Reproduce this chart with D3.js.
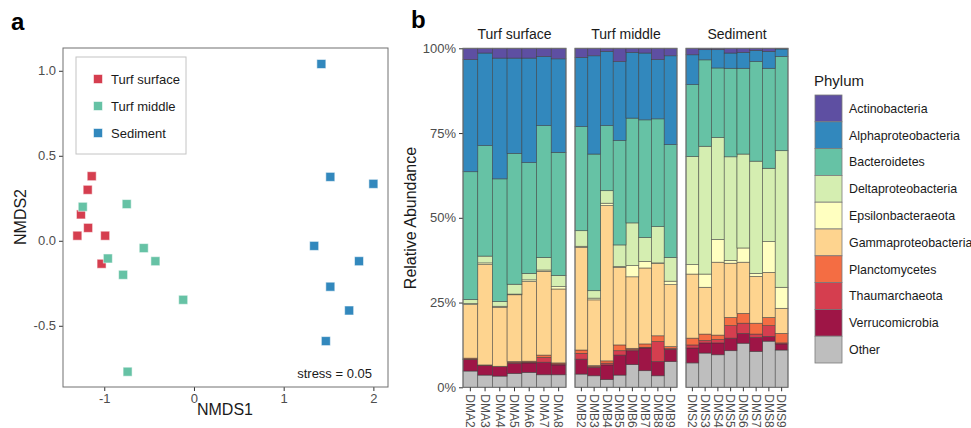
<!DOCTYPE html>
<html>
<head>
<meta charset="utf-8">
<script src="https://cdn.jsdelivr.net/npm/d3@7"></script>
<style>
  body { margin: 0; background: #fff; }
  svg { font-family: "Liberation Sans", Arial, sans-serif; }
</style>
</head>
<body>
<svg id="fig"></svg>
<script>
// panel a: NMDS ordination
let grupos = ['Turf surface', 'Turf middle', 'Sediment']
let grupoColor = ['#d53e4f', '#66c2a5', '#3288bd']
let nmdsGrupo = [0,0,0,0,0,0,0, 1,1,1,1,1,1,1,1, 2,2,2,2,2,2,2,2]
let nmds1 = [-1.14,-1.185,-1.26,-1.18,-1.30,-0.99,-1.03,
             -1.24,-0.75,-0.56,-0.96,-0.43,-0.79,-0.12,-0.74,
             1.42,1.52,2.0,1.34,1.84,1.52,1.73,1.47]
let nmds2 = [0.38,0.30,0.155,0.076,0.03,0.03,-0.135,
             0.20,0.216,-0.043,-0.104,-0.12,-0.20,-0.347,-0.77,
             1.04,0.376,0.335,-0.03,-0.12,-0.27,-0.41,-0.59]
let ticksX = [-1, 0, 1, 2]
let ticksY = [-0.5, 0, 0.5, 1]

// panel b: relative abundance
let muestras = ['DMA2','DMA3','DMA4','DMA5','DMA6','DMA7','DMA8',
                'DMB2','DMB3','DMB4','DMB5','DMB6','DMB7','DMB8','DMB9',
                'DMS2','DMS3','DMS4','DMS5','DMS6','DMS7','DMS8','DMS9']
let muestraGrupo = [0,0,0,0,0,0,0, 1,1,1,1,1,1,1,1, 2,2,2,2,2,2,2,2]
let phyla = ['Actinobacteria','Alphaproteobacteria','Bacteroidetes','Deltaproteobacteria',
             'Epsilonbacteraeota','Gammaproteobacteria','Planctomycetes','Thaumarchaeota',
             'Verrucomicrobia','Other']
let phylaColor = ['#5e4fa2','#3288bd','#66c2a5','#d5eeb1','#ffffc0','#fed48f',
                  '#f46d43','#d53e4f','#9e1546','#bebebe']
let actino = [3.3,1.4,2.9,2.9,2.9,2.4,3.1, 2.7,2.2,0.9,3.9,1.2,1.4,3.3,2.2, 1.9,0.4,0.4,1.4,1.2,0.6,0.9,0.2]
let alpha = [33.1,27.3,35.6,28.1,30.8,20.4,27.6, 20.4,29.0,21.9,23.3,19.4,19.7,17.5,26.2, 8.8,3.0,5.4,4.5,4.7,3.3,5.0,2.2]
let bacter = [37.7,32.6,36.2,38.6,32.7,38.9,36.3, 30.7,40.3,19.2,30.8,30.9,34.7,31.8,33.3, 21.2,25.5,20.5,26.1,25.3,29.4,29.5,27.8]
let delta = [1.2,2.0,1.4,2.9,1.9,3.7,3.3, 4.6,2.2,3.7,6.4,12.6,7.1,10.7,7.0, 31.9,37.7,30.1,30.6,27.7,33.1,21.6,40.3]
let epsilon = [0.3,0.5,0.3,0.2,0.5,0.4,0.7, 0.3,0.5,0.7,0.2,3.3,1.9,0.2,1.0, 2.8,3.9,6.7,0.8,4.2,0.9,9.1,6.2]
let gamma = [15.8,29.6,17.4,19.7,23.5,24.7,21.8, 30.3,19.4,45.8,22.9,21.1,22.4,21.3,18.3, 18.9,13.8,21.5,16.0,15.1,13.8,13.3,7.4]
let plancto = [0.3,0.1,0.1,0.3,0.3,0.7,0.3, 1.0,0.3,0.7,1.7,0.4,1.0,1.7,0.6, 2.0,1.9,1.3,2.4,2.9,3.2,2.4,2.8]
let thaum = [0.1,0.1,0,0.2,0.2,1.4,0.3, 1.7,0.2,0.5,1.3,0.3,0.2,5.9,0.2, 0.9,0.7,1.0,3.7,3.0,1.0,3.2,0.3]
let verruco = [3.4,2.8,2.8,3.0,2.8,3.7,2.9, 4.4,2.5,4.3,5.9,4.1,6.7,4.2,3.6, 4.4,3.0,3.5,3.7,2.9,4.1,1.4,1.8]
let otros = [4.8,3.6,3.3,4.1,4.4,3.7,3.7, 3.9,3.4,2.3,3.6,6.7,4.9,3.4,7.6, 7.2,10.1,9.6,10.8,13.0,10.6,13.6,11.0]
let ticksPct = [0, 0.25, 0.5, 0.75, 1]

function graficar() {
  let w = 971
  let h = 428
  let svg = d3.select('#fig').attr('width', w).attr('height', h)
  let gris = '#4d4d4d'
  let borde = '#707070'
  // plain hyphen instead of unicode minus, like the original
  let guion = f => (d => f(d).replace('\u2212', '-'))

  // ---------- panel a ----------
  let x = d3.scaleLinear().domain([-1.46, 2.163]).range([63, 388])
  let y = d3.scaleLinear().domain([-0.86, 1.134]).range([387, 48])

  svg.append('text').text('a')
    .attr('x', 11).attr('y', 30)
    .style('font-size', '24px').style('font-weight', 'bold')

  svg.append('g')
    .attr('transform', 'translate(0,387)')
    .call(d3.axisBottom(x).tickValues(ticksX).tickSize(4).tickPadding(3).tickFormat(guion(d3.format('d'))))
    .call(g => g.select('.domain').remove())
    .call(g => g.selectAll('line').attr('stroke', '#333'))
    .call(g => g.selectAll('text').attr('fill', gris).style('font-size', '13px'))

  svg.append('g')
    .attr('transform', 'translate(63,0)')
    .call(d3.axisLeft(y).tickValues(ticksY).tickSize(4).tickPadding(3).tickFormat(guion(d3.format('.1f'))))
    .call(g => g.select('.domain').remove())
    .call(g => g.selectAll('line').attr('stroke', '#333'))
    .call(g => g.selectAll('text').attr('fill', gris).style('font-size', '13px'))

  svg.append('rect')
    .attr('x', 63).attr('y', 48).attr('width', 325).attr('height', 339)
    .attr('fill', 'none').attr('stroke', borde)

  let puntos = nmds1.map((d, i) => ({x: d, y: nmds2[i], g: nmdsGrupo[i]}))
  svg.selectAll('rect.pt')
    .data(puntos)
    .enter()
    .append('rect')
    .attr('class', 'pt')
    .attr('x', d => x(d.x) - 4.5)
    .attr('y', d => y(d.y) - 4.5)
    .attr('width', 9).attr('height', 9)
    .attr('fill', d => grupoColor[d.g])
    .attr('stroke', '#fff').attr('stroke-opacity', 0.55).attr('stroke-width', 1)

  // legend box
  svg.append('rect')
    .attr('x', 76).attr('y', 57).attr('width', 110).attr('height', 97)
    .attr('fill', '#fff').attr('stroke', '#c4c4c4')
  let leg = svg.selectAll('g.lega')
    .data(grupos)
    .enter()
    .append('g')
    .attr('class', 'lega')
    .attr('transform', (d, i) => 'translate(98,' + (79 + i * 27) + ')')
  leg.append('rect')
    .attr('x', -4.5).attr('y', -4.5).attr('width', 9).attr('height', 9)
    .attr('fill', (d, i) => grupoColor[i])
    .attr('stroke', '#fff').attr('stroke-opacity', 0.55)
  leg.append('text').text(d => d)
    .attr('x', 13).attr('y', 4.5)
    .style('font-size', '13px').attr('fill', '#1a1a1a')

  svg.append('text').text('stress = 0.05')
    .attr('x', 372).attr('y', 378).attr('text-anchor', 'end')
    .style('font-size', '13px').attr('fill', '#1a1a1a')

  svg.append('text').text('NMDS1')
    .attr('x', 225).attr('y', 415).attr('text-anchor', 'middle')
    .style('font-size', '16px').attr('fill', '#1a1a1a')
  svg.append('text').text('NMDS2')
    .attr('transform', 'translate(26,217) rotate(-90)')
    .attr('text-anchor', 'middle')
    .style('font-size', '16px').attr('fill', '#1a1a1a')

  // ---------- panel b ----------
  svg.append('text').text('b')
    .attr('x', 411).attr('y', 28)
    .style('font-size', '24px').style('font-weight', 'bold')

  let yb = d3.scaleLinear().domain([0, 1]).range([387.3, 48.3])
  let facetas = [[463, 566], [575, 677], [686, 788]]

  let series = [actino, alpha, bacter, delta, epsilon, gamma, plancto, thaum, verruco, otros]
  let tabla = muestras.map((m, i) => {
    let fila = {muestra: m, grupo: muestraGrupo[i]}
    phyla.forEach((p, k) => { fila[p] = series[k][i] })
    return fila
  })
  let pila = d3.stack()
    .keys(phyla.slice().reverse())
    .offset(d3.stackOffsetExpand)(tabla)

  svg.append('g')
    .attr('transform', 'translate(463,0)')
    .call(d3.axisLeft(yb).tickValues(ticksPct).tickSize(4).tickPadding(3).tickFormat(d3.format('.0%')))
    .call(g => g.select('.domain').remove())
    .call(g => g.selectAll('line').attr('stroke', '#333'))
    .call(g => g.selectAll('text').attr('fill', gris).style('font-size', '13px'))

  svg.append('text').text('Relative Abundance')
    .attr('transform', 'translate(416,218) rotate(-90)')
    .attr('text-anchor', 'middle')
    .style('font-size', '16px').attr('fill', '#1a1a1a')

  facetas.forEach((f, gi) => {
    let filas = tabla.filter(d => d.grupo == gi)
    let xb = d3.scaleBand().domain(filas.map(d => d.muestra)).range(f).padding(0)

    let capas = svg.append('g').selectAll('g')
      .data(pila)
      .enter()
      .append('g')
      .attr('fill', d => phylaColor[phyla.indexOf(d.key)])

    capas.selectAll('rect')
      .data(d => d.filter(p => p.data.grupo == gi))
      .enter()
      .append('rect')
      .attr('x', d => xb(d.data.muestra))
      .attr('width', xb.bandwidth())
      .attr('y', d => yb(d[1]))
      .attr('height', d => yb(d[0]) - yb(d[1]))
      .attr('stroke', '#3a3a3a').attr('stroke-opacity', 0.7).attr('stroke-width', 0.7)

    svg.append('rect')
      .attr('x', f[0]).attr('y', 48.3).attr('width', f[1] - f[0]).attr('height', 339)
      .attr('fill', 'none').attr('stroke', borde)

    svg.append('text').text(grupos[gi])
      .attr('x', (f[0] + f[1]) / 2).attr('y', 39).attr('text-anchor', 'middle')
      .style('font-size', '14px').attr('fill', '#1a1a1a')

    let eje = svg.append('g')
      .attr('transform', 'translate(0,387.3)')
      .call(d3.axisBottom(xb).tickSize(4).tickPadding(5))
    eje.select('.domain').remove()
    eje.selectAll('line').attr('stroke', '#333')
    eje.selectAll('text')
      .attr('fill', gris).style('font-size', '12px')
      .attr('transform', 'rotate(90)')
      .attr('text-anchor', 'start')
      .attr('dy', '0.35em')
      .attr('x', 7).attr('y', 0)
  })

  // phylum legend
  svg.append('text').text('Phylum')
    .attr('x', 814).attr('y', 86)
    .style('font-size', '15px').attr('fill', '#1a1a1a')
  let lb = svg.selectAll('g.legb')
    .data(phyla)
    .enter()
    .append('g')
    .attr('class', 'legb')
    .attr('transform', (d, i) => 'translate(815,' + (95 + i * 26.8) + ')')
  lb.append('rect')
    .attr('width', 27).attr('height', 26.8)
    .attr('fill', (d, i) => phylaColor[i])
    .attr('stroke', '#7a7a7a').attr('stroke-width', 0.8)
  lb.append('text').text(d => d)
    .attr('x', 34).attr('y', 13.4).attr('dy', '0.35em')
    .style('font-size', '12.4px').attr('fill', '#1a1a1a')
}

graficar()
</script>
</body>
</html>
